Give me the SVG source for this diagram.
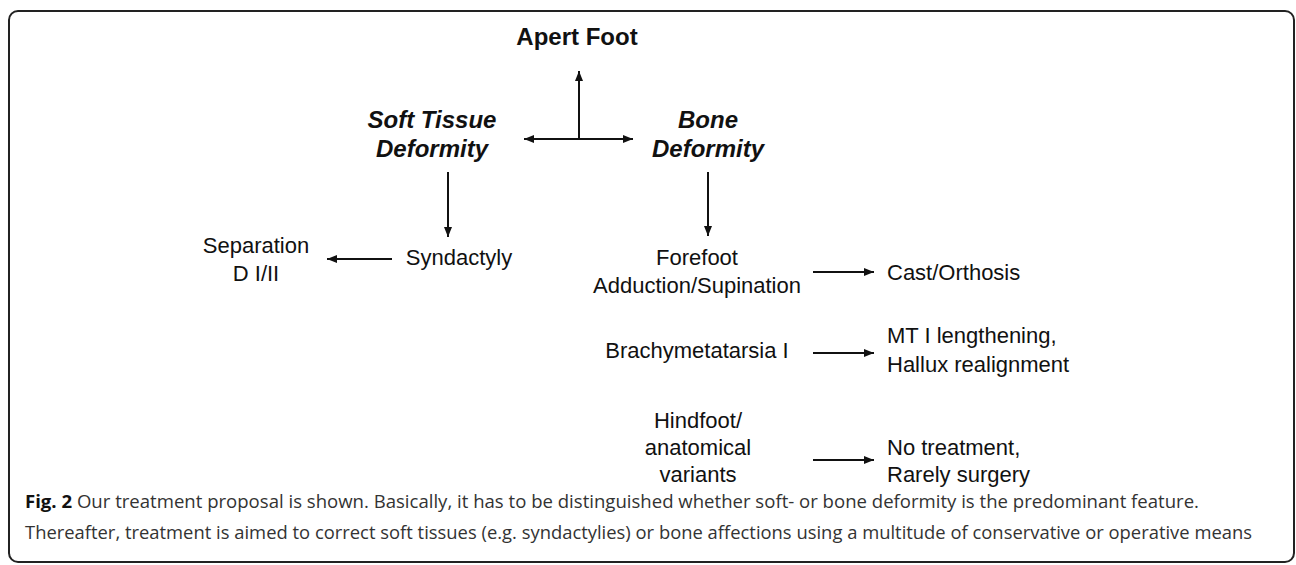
<svg xmlns="http://www.w3.org/2000/svg" width="1296" height="565" viewBox="0 0 1296 565">
<style>
.t{font-family:"Liberation Sans",Arial,sans-serif;font-size:22px;fill:#111;text-anchor:middle}
.l{text-anchor:start}
.b{font-weight:bold;font-size:24px}
.bi{font-weight:bold;font-style:italic;font-size:24px}
.c{font-family:"Open Sans","Noto Sans",sans-serif;font-size:18px;fill:#333}
.cb{font-weight:bold;fill:#111}
.a{stroke:#111;stroke-width:2;fill:none}
</style>
<defs>
<marker id="ah" markerUnits="userSpaceOnUse" markerWidth="12" markerHeight="10" refX="10" refY="4" orient="auto-start-reverse">
<path d="M0,0 L10,4 L0,8 z" fill="#111"/>
</marker>
</defs>
<rect x="9" y="11" width="1285" height="551" rx="9" fill="#fff" stroke="#222" stroke-width="2"/>
<g id="connectors">
<line class="a" x1="579" y1="139" x2="579" y2="71" marker-end="url(#ah)"/>
<line class="a" x1="524" y1="139" x2="633" y2="139" marker-start="url(#ah)" marker-end="url(#ah)"/>
<line class="a" x1="448" y1="172" x2="448" y2="237" marker-end="url(#ah)"/>
<line class="a" x1="708" y1="172" x2="708" y2="236" marker-end="url(#ah)"/>
<line class="a" x1="392" y1="259" x2="327" y2="259" marker-end="url(#ah)"/>
<line class="a" x1="813" y1="272" x2="874" y2="272" marker-end="url(#ah)"/>
<line class="a" x1="813" y1="353" x2="874" y2="353" marker-end="url(#ah)"/>
<line class="a" x1="813" y1="460" x2="874" y2="460" marker-end="url(#ah)"/>
</g>
<g id="apert"><text class="t b" x="577" y="45">Apert Foot</text></g>
<g id="soft"><text class="t bi" x="432" y="128">Soft Tissue</text><text class="t bi" x="432" y="157">Deformity</text></g>
<g id="bone"><text class="t bi" x="708" y="128">Bone</text><text class="t bi" x="708" y="157">Deformity</text></g>
<g id="syndactyly"><text class="t" x="459" y="265">Syndactyly</text></g>
<g id="separation"><text class="t" x="256" y="253">Separation</text><text class="t" x="256" y="281">D I/II</text></g>
<g id="forefoot"><text class="t" x="697" y="265">Forefoot</text><text class="t" x="697" y="293">Adduction/Supination</text></g>
<g id="cast"><text class="t l" x="887" y="280">Cast/Orthosis</text></g>
<g id="brachy"><text class="t" x="697" y="358">Brachymetatarsia I</text></g>
<g id="mt"><text class="t l" x="887" y="343">MT I lengthening,</text><text class="t l" x="887" y="372">Hallux realignment</text></g>
<g id="hindfoot"><text class="t" x="698" y="428">Hindfoot/</text><text class="t" x="698" y="455">anatomical</text><text class="t" x="698" y="482">variants</text></g>
<g id="notreat"><text class="t l" x="887" y="455">No treatment,</text><text class="t l" x="887" y="482">Rarely surgery</text></g>
<g id="caption">
<text class="c" x="25" y="508" textLength="1174" lengthAdjust="spacingAndGlyphs"><tspan class="cb">Fig. 2</tspan> Our treatment proposal is shown. Basically, it has to be distinguished whether soft- or bone deformity is the predominant feature.</text>
<text class="c" x="25" y="539" textLength="1227" lengthAdjust="spacingAndGlyphs">Thereafter, treatment is aimed to correct soft tissues (e.g. syndactylies) or bone affections using a multitude of conservative or operative means</text>
</g>
</svg>
